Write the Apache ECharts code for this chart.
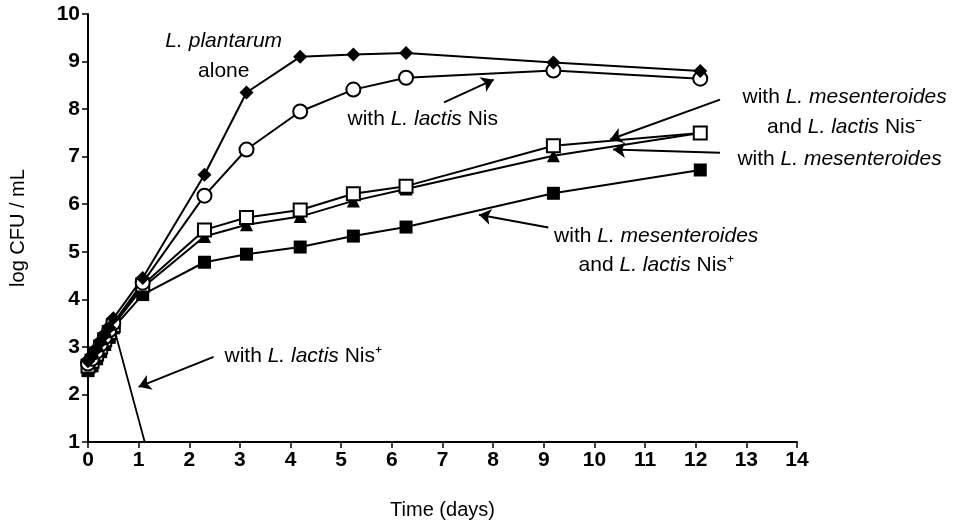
<!DOCTYPE html>
<html>
<head>
<meta charset="utf-8">
<script src="https://cdn.jsdelivr.net/npm/echarts@6/dist/echarts.min.js"></script>
<style>
  html, body { margin: 0; padding: 0; background: #fff; }
  #main { width: 954px; height: 527px; }
</style>
</head>
<body>
<div id="main"></div>
<script>
// sampling times (days)
const timeEarly = [0, 0.08, 0.17, 0.25, 0.33, 0.42, 0.5];
const timeLate = [1.08, 2.3, 3.13, 4.19, 5.24, 6.28, 9.19, 12.09];
const timeNisPlus = [1.12];

// log CFU / mL
const plantarumAlone = [2.7, 2.8, 2.95, 3.1, 3.25, 3.4, 3.6, 4.45, 6.62, 8.35, 9.1, 9.15, 9.18, 8.98, 8.8];
const withNis = [2.65, 2.75, 2.9, 3.05, 3.2, 3.35, 3.5, 4.35, 6.18, 7.15, 7.95, 8.41, 8.66, 8.81, 8.64];
const withMesNisMinus = [2.6, 2.7, 2.85, 3.0, 3.15, 3.3, 3.45, 4.3, 5.46, 5.72, 5.88, 6.22, 6.38, 7.23, 7.5];
const withMes = [2.55, 2.65, 2.8, 2.95, 3.1, 3.25, 3.45, 4.25, 5.32, 5.57, 5.74, 6.07, 6.32, 7.02, 7.5];
const withMesNisPlus = [2.5, 2.6, 2.75, 2.9, 3.05, 3.2, 3.4, 4.1, 4.78, 4.95, 5.1, 5.33, 5.52, 6.23, 6.72];
const withNisPlus = [2.6, 2.7, 2.85, 3.0, 3.15, 3.3, 3.45, 1.0];

// annotation texts: [x, y, text] in data coords
const labels = [
  [2.68, 9.42, '{i|L. plantarum}'],
  [2.68, 8.79, 'alone'],
  [6.61, 7.78, 'with {i|L. lactis} Nis'],
  [14.94, 8.26, 'with {i|L. mesenteroides}'],
  [14.94, 7.63, 'and {i|L. lactis} Nis\u207B'],
  [14.84, 6.94, 'with {i|L. mesenteroides}'],
  [11.22, 5.32, 'with {i|L. mesenteroides}'],
  [11.22, 4.71, 'and {i|L. lactis} Nis\u207A'],
  [4.25, 2.81, 'with {i|L. lactis} Nis\u207A']
];
// arrows: [tailX, tailY, headX, headY]
const arrows = [
  [7.03, 8.14, 8.01, 8.62],
  [12.48, 8.2, 10.31, 7.36],
  [12.48, 7.08, 10.37, 7.15],
  [9.09, 5.51, 7.72, 5.78],
  [2.48, 2.79, 1.0, 2.16]
];

function pairs(times, vals) {
  return times.map(function (t, i) { return [t, vals[i]]; });
}
const allTimes = timeEarly.concat(timeLate);

const font = '"Liberation Sans", Arial, sans-serif';
const chart = echarts.init(document.getElementById('main'));

function mkSeries(name, vals, symbol, fill, size) {
  return {
    name: name,
    type: 'line',
    data: pairs(allTimes, vals),
    symbol: symbol,
    symbolSize: size,
    lineStyle: { color: '#000', width: 2 },
    itemStyle: { color: fill, borderColor: '#000', borderWidth: fill === '#fff' ? 2 : 0 },
    animation: false
  };
}

const nisPlusData = pairs(timeEarly.concat(timeNisPlus), withNisPlus);
nisPlusData[nisPlusData.length - 1] = { value: nisPlusData[nisPlusData.length - 1], symbol: 'none' };

let option = {
  animation: false,
  grid: { left: 86, right: 157, top: 14, bottom: 85 },
  xAxis: {
    type: 'value',
    min: 0, max: 14, interval: 1,
    name: 'Time (days)',
    nameLocation: 'middle',
    nameGap: 58,
    nameTextStyle: { color: '#000', fontSize: 20, fontFamily: font },
    axisLine: { lineStyle: { color: '#000', width: 2 } },
    axisTick: { lineStyle: { color: '#000', width: 1.5 }, length: 6 },
    axisLabel: { color: '#000', fontSize: 21, fontWeight: 'bold', fontFamily: font, margin: 8 },
    splitLine: { show: false }
  },
  yAxis: {
    type: 'value',
    min: 1, max: 10, interval: 1,
    name: 'log CFU / mL',
    nameLocation: 'middle',
    nameGap: 60,
    nameRotate: 90,
    nameTextStyle: { color: '#000', fontSize: 20, fontFamily: font },
    axisLine: { show: true, lineStyle: { color: '#000', width: 2 } },
    axisTick: { show: true, lineStyle: { color: '#000', width: 1.5 }, length: 6 },
    axisLabel: { color: '#000', fontSize: 21, fontWeight: 'bold', fontFamily: font, margin: 8 },
    splitLine: { show: false }
  },
  series: [
    {
      name: 'with L. lactis Nis+',
      type: 'line',
      data: nisPlusData,
      symbol: 'rect',
      symbolSize: 10,
      lineStyle: { color: '#000', width: 1.8 },
      itemStyle: { color: '#000' },
      markLine: {
        silent: true,
        symbol: ['none', 'arrow'],
        symbolSize: 12,
        label: { show: false },
        lineStyle: { color: '#000', width: 2, type: 'solid' },
        data: arrows.map(function (a) {
          return [{ coord: [a[0], a[1]] }, { coord: [a[2], a[3]] }];
        })
      }
    },
    mkSeries('with L. mesenteroides and L. lactis Nis+', withMesNisPlus, 'rect', '#000', 13),
    mkSeries('with L. mesenteroides', withMes, 'triangle', '#000', 13),
    mkSeries('with L. mesenteroides and L. lactis Nis-', withMesNisMinus, 'rect', '#fff', 13),
    mkSeries('with L. lactis Nis', withNis, 'circle', '#fff', 14),
    mkSeries('L. plantarum alone', plantarumAlone, 'diamond', '#000', 14)
  ]
};
chart.setOption(option);

// place the annotation texts from data coords
chart.setOption({
  graphic: labels.map(function (l) {
    const p = chart.convertToPixel({ gridIndex: 0 }, [l[0], l[1]]);
    return {
      type: 'text',
      x: p[0],
      y: p[1],
      silent: true,
      style: {
        text: l[2],
        fill: '#000',
        font: '21px ' + font,
        align: 'center',
        verticalAlign: 'middle',
        rich: {
          i: { fontStyle: 'italic', fontSize: 21, fontFamily: font, fill: '#000' }
        }
      }
    };
  })
});
</script>
</body>
</html>
